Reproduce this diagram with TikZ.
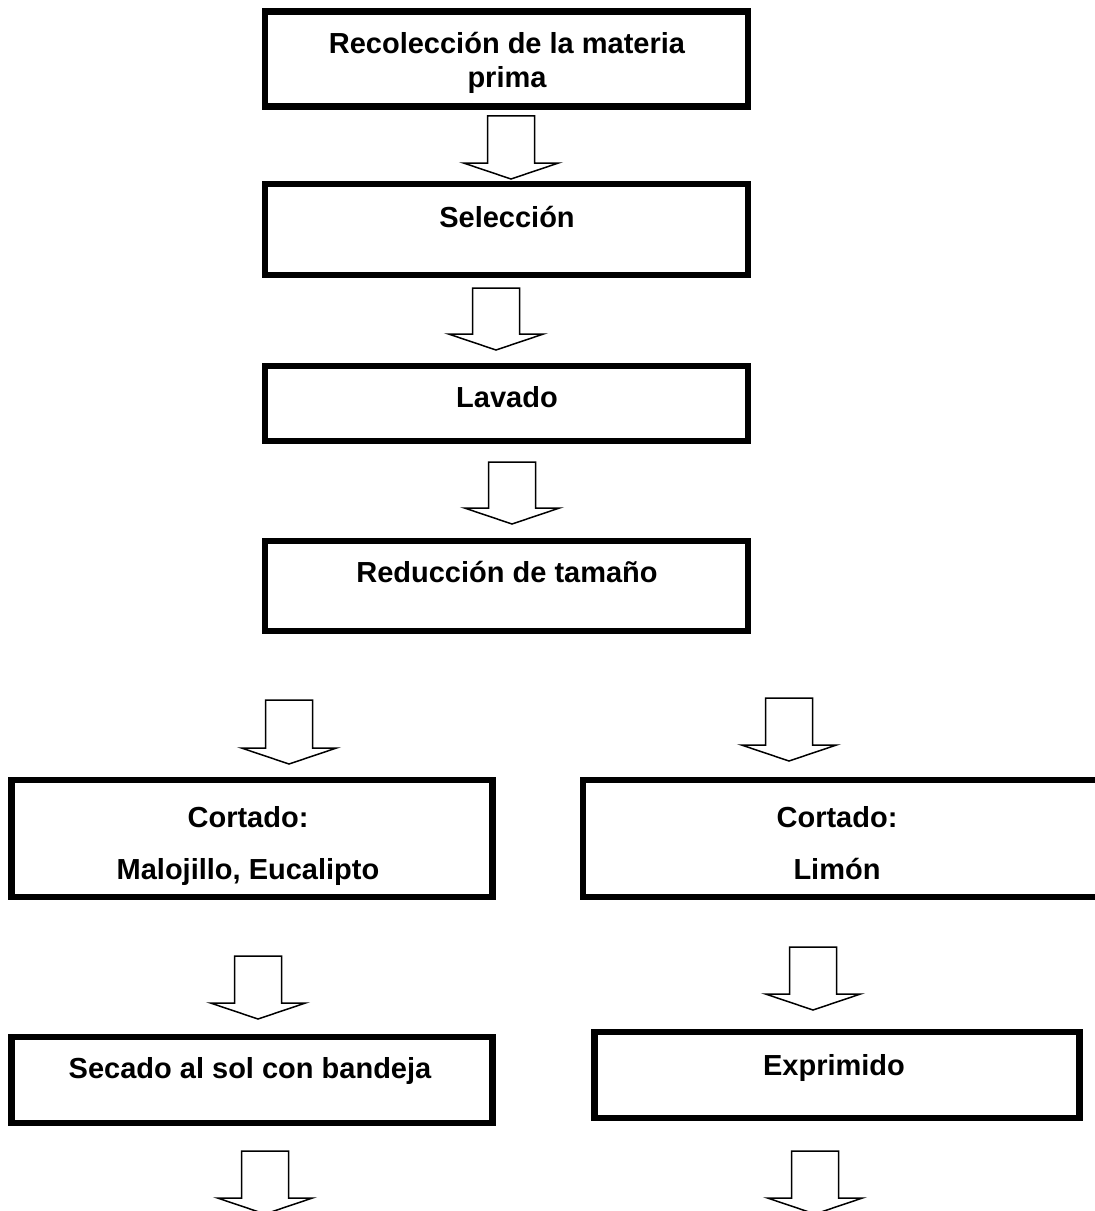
\documentclass[tikz,border=0pt]{standalone}
\usepackage{fontspec}
\setmainfont{Liberation Sans}
\usetikzlibrary{positioning,calc}

\tikzset{
  stepbox/.style={draw, rectangle, line width=3.25pt, inner sep=0pt, outer sep=0pt},
  steptext/.style={inner sep=0pt, font=\bfseries\fontsize{14.5}{17}\selectfont},
  hollow/.style={draw, line width=0.75pt, line join=miter},
}

% block arrow: shaft from #1 down to the tip height of #2
\newcommand{\hollowdown}[2]{%
  \draw[hollow] let \p1=#1, \p2=#2 in
    (\x1-11.75pt,\y1) -- (\x1+11.75pt,\y1) -- (\x1+11.75pt,\y2+8pt)
    -- (\x1+23.75pt,\y2+8pt) -- (\x1,\y2) -- (\x1-23.75pt,\y2+8pt)
    -- (\x1-11.75pt,\y2+8pt) -- cycle;}

\begin{document}
\begin{tikzpicture}[x=0.5pt, y=-0.5pt]
\useasboundingbox (0,0) rectangle (1094,1211);

\foreach \na/\y/\h in {rec/59/47.5, sel/229.5/45.5, lav/403.5/37.5, red/586/45}
    \path (506.5,\y) node[stepbox, minimum width=241.5pt, minimum height=\h pt] (\na) {};
\path (252,838.5) node[stepbox, minimum width=240.5pt, minimum height=58.5pt] (cutL) {};
\path (841.5,838.5) node[stepbox, minimum width=258.5pt, minimum height=58.5pt] (cutR) {};
\path (252,1080) node[stepbox, minimum width=240.5pt, minimum height=43pt] (secL) {};
\path (837,1075) node[stepbox, minimum width=242.5pt, minimum height=43pt] (expR) {};

\path (507,31.5) node[steptext, align=center, anchor=north] (rec-t) {Recolección de la materia\\prima};
\path (507,227) node[steptext, anchor=base] (sel-t) {Selección};
\path (507,407) node[steptext, anchor=base] (lav-t) {Lavado};
\path (507,582) node[steptext, anchor=base] (red-t) {Reducción de tamaño};
\path (248,806) node[steptext, align=center, anchor=north] (cutL-t) {Cortado:\\[9pt]Malojillo, Eucalipto};
\path (837,806) node[steptext, align=center, anchor=north] (cutR-t) {Cortado:\\[9pt]Limón};
\path (250,1078) node[steptext, anchor=base] (secL-t) {Secado al sol con bandeja};
\path (834,1075) node[steptext, anchor=base] (expR-t) {Exprimido};

\coordinate (end-l) at (265,1214);
\coordinate (end-r) at (815,1214);

\hollowdown{($(rec.south)+(4.5,9.25)$)}{($(sel.north)+(0,-5)$)}
\hollowdown{($(sel.south)+(-10.5,13)$)}{($(lav.north)+(0,-16)$)}
\hollowdown{($(lav.south)+(5.5,21)$)}{($(red.north)+(0,-17)$)}
\hollowdown{($(red.south -| cutL.north)+(37,69)$)}{($(cutL.north)+(0,-16)$)}
\hollowdown{($(red.south -| cutR.north)+(-52.5,67)$)}{($(cutR.north)+(0,-19)$)}
\hollowdown{($(cutL.south)+(6,59)$)}{($(secL.north)+(0,-18)$)}
\hollowdown{($(cutR.south)+(-28.5,50)$)}{($(expR.north)+(0,-22)$)}
\hollowdown{($(secL.south)+(13,28)$)}{(end-l)}
\hollowdown{($(expR.south)+(-22,33)$)}{(end-r)}
\end{tikzpicture}
\end{document}
